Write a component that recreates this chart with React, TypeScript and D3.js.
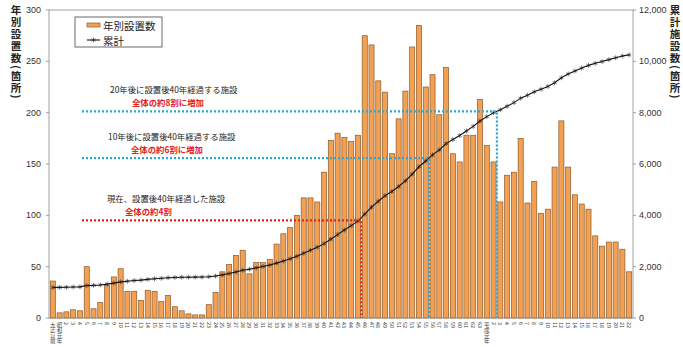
import * as d3 from 'd3';

// 年別設置数 (箇所) — 大正以前, 昭和元年〜63, 平成元年〜22
const categories = [
  '大正以前', '昭和元年', '2', '3', '4', '5', '6', '7', '8', '9', '10',
  '11', '12', '13', '14', '15', '16', '17', '18', '19', '20',
  '21', '22', '23', '24', '25', '26', '27', '28', '29', '30',
  '31', '32', '33', '34', '35', '36', '37', '38', '39', '40',
  '41', '42', '43', '44', '45', '46', '47', '48', '49', '50',
  '51', '52', '53', '54', '55', '56', '57', '58', '59', '60',
  '61', '62', '63', '平成元年', '2', '3', '4', '5', '6', '7',
  '8', '9', '10', '11', '12', '13', '14', '15', '16', '17',
  '18', '19', '20', '21', '22',
];

const yearly = [
  36, 5, 6, 8, 7, 50, 9, 15, 32, 40, 48,
  26, 26, 17, 27, 26, 16, 22, 11, 7, 4,
  3, 3, 13, 25, 45, 52, 61, 66, 43, 54,
  54, 57, 72, 82, 88, 100, 117, 117, 113, 142,
  173, 180, 176, 172, 178, 275, 266, 231, 220, 160,
  194, 221, 264, 285, 225, 237, 198, 244, 160, 152,
  178, 178, 213, 168, 152, 113, 139, 142, 175, 112,
  133, 102, 106, 147, 192, 147, 120, 111, 106, 80,
  70, 74, 74, 67, 45,
];

// 累計施設数
const cumulative = [
  1188, 1193, 1199, 1207, 1214, 1264, 1273, 1288, 1320, 1360, 1408,
  1434, 1460, 1477, 1504, 1530, 1546, 1568, 1579, 1586, 1590,
  1593, 1596, 1609, 1634, 1679, 1731, 1792, 1858, 1901, 1955,
  2009, 2066, 2138, 2220, 2308, 2408, 2525, 2642, 2755, 2897,
  3070, 3250, 3426, 3598, 3776, 4051, 4317, 4548, 4768, 4928,
  5122, 5343, 5607, 5892, 6117, 6354, 6552, 6796, 6956, 7108,
  7286, 7464, 7677, 7845, 7997, 8110, 8249, 8391, 8566, 8678,
  8811, 8913, 9019, 9166, 9358, 9505, 9625, 9736, 9842, 9922,
  9992, 10066, 10140, 10207, 10252,
];

const leftTicks = [0, 50, 100, 150, 200, 250, 300];
const rightTicks = [0, 2000, 4000, 6000, 8000, 10000, 12000];

// 40年経過の境目 (最後に含まれる年の index) と累計の水準
const milestones = [
  { label: '20年後に設置後40年経過する施設', share: '全体の約8割に増加', lastIndex: 65, level: 8050, kind: 'future', lx: 110, sx: 132 },
  { label: '10年後に設置後40年経過する施設', share: '全体の約6割に増加', lastIndex: 55, level: 6230, kind: 'future', lx: 108, sx: 131 },
  { label: '現在、設置後40年経過した施設', share: '全体の約4割', lastIndex: 45, level: 3800, kind: 'now', lx: 107, sx: 125 },
];

const W = 683;
const H = 347;
const plot = { left: 49, right: 633, top: 10, bottom: 318 };
const jp = '"Noto Sans CJK JP", "Noto Sans", sans-serif';
const num = '"Liberation Sans", Arial, sans-serif';
const barFill = '#f3a052';
const barStroke = '#8a5a2e';
const blue = '#2aa7d8';
const red = '#e5231d';

export default function App() {
  const x = d3
    .scaleBand<number>()
    .domain(d3.range(categories.length))
    .range([plot.left, plot.right])
    .paddingInner(0.25)
    .paddingOuter(0.19);
  const y = d3.scaleLinear().domain([0, 300]).range([plot.bottom, plot.top]);
  const y2 = d3.scaleLinear().domain([0, 12000]).range([plot.bottom, plot.top]);
  const cx = (i: number) => (x(i) ?? 0) + x.bandwidth() / 2;

  const line = d3
    .line<number>()
    .x((_, i) => cx(i))
    .y((d) => y2(d));
  const star = d3.symbol(d3.symbolAsterisk, 16)() ?? '';
  const fmt = d3.format(',');

  return (
    <svg width={W} height={H} style={{ position: 'absolute', left: 0, top: 0, background: '#fff' }}>
      {/* plot frame */}
      <rect
        x={plot.left}
        y={plot.top}
        width={plot.right - plot.left}
        height={plot.bottom - plot.top}
        fill="none"
        stroke="#8c8c8c"
        strokeWidth={0.8}
      />

      {/* left axis */}
      {leftTicks.map((t) => (
        <g key={'l' + t}>
          <line x1={plot.left - 3} x2={plot.left} y1={y(t)} y2={y(t)} stroke="#8c8c8c" strokeWidth={0.8} />
          <text x={41} y={y(t)} textAnchor="end" dominantBaseline="central" fontFamily={num} fontSize={9} fill="#333">
            {t}
          </text>
        </g>
      ))}
      {/* right axis */}
      {rightTicks.map((t) => (
        <g key={'r' + t}>
          <line x1={plot.right} x2={plot.right + 3} y1={y2(t)} y2={y2(t)} stroke="#8c8c8c" strokeWidth={0.8} />
          <text x={639} y={y2(t)} dominantBaseline="central" fontFamily={num} fontSize={9} fill="#333">
            {fmt(t)}
          </text>
        </g>
      ))}

      {/* axis titles */}
      <text
        x={16}
        y={5}
        style={{ writingMode: 'vertical-rl' }}
        fontFamily={jp}
        fontWeight="bold"
        fontSize={10.5}
        letterSpacing={1.5}
        fill="#222"
      >
        年別設置数(箇所)
      </text>
      <text
        x={675}
        y={5}
        style={{ writingMode: 'vertical-rl' }}
        fontFamily={jp}
        fontWeight="bold"
        fontSize={10.5}
        letterSpacing={1.5}
        fill="#222"
      >
        累計施設数(箇所)
      </text>

      {/* bars */}
      {yearly.map((v, i) => (
        <rect
          key={'b' + i}
          x={x(i)}
          y={y(v)}
          width={x.bandwidth()}
          height={plot.bottom - y(v)}
          fill={barFill}
          stroke={barStroke}
          strokeWidth={0.7}
        />
      ))}

      {/* x labels */}
      {categories.map((c, i) => (
        <text
          key={'x' + i}
          x={cx(i)}
          y={322}
          style={{ writingMode: 'vertical-rl' }}
          fontFamily={jp}
          fontSize={5.5}
          fill="#444"
        >
          {c}
        </text>
      ))}

      {/* cumulative line */}
      <path d={line(cumulative) ?? ''} fill="none" stroke="#111" strokeWidth={1.1} />
      {cumulative.map((v, i) => (
        <path key={'m' + i} d={star} transform={`translate(${cx(i)},${y2(v)})`} fill="none" stroke="#222" strokeWidth={0.6} />
      ))}

      {/* 40年経過 annotations */}
      {milestones.map((m) => {
        const color = m.kind === 'now' ? red : blue;
        const bx = (x(m.lastIndex) ?? 0) + x.bandwidth() + (x.step() * x.paddingInner()) / 2;
        const ly = y2(m.level);
        return (
          <g key={m.label}>
            <polyline
              points={`82,${ly} ${bx},${ly} ${bx},${plot.bottom}`}
              fill="none"
              stroke={color}
              strokeWidth={2.2}
              strokeDasharray="2,2"
            />
            <text x={m.lx} y={ly - 22} dominantBaseline="central" fontFamily={jp} fontSize={8.4} fill="#222">
              {m.label}
            </text>
            <text x={m.sx} y={ly - 9.5} dominantBaseline="central" fontFamily={jp} fontWeight="bold" fontSize={8.4} fill={red}>
              {m.share}
            </text>
          </g>
        );
      })}

      {/* legend */}
      <rect x={75} y={17} width={87} height={30} fill="#fff" stroke="#444" strokeWidth={0.8} />
      <rect x={87} y={23} width={13} height={4} fill={barFill} stroke={barStroke} strokeWidth={0.7} />
      <text x={103} y={25.5} dominantBaseline="central" fontFamily={jp} fontSize={10.5} fill="#222">
        年別設置数
      </text>
      <line x1={87} x2={100} y1={40} y2={40} stroke="#111" strokeWidth={1.1} />
      <path d={star} transform="translate(93.5,40)" fill="none" stroke="#222" strokeWidth={0.6} />
      <text x={103} y={40} dominantBaseline="central" fontFamily={jp} fontSize={10.5} fill="#222">
        累計
      </text>
    </svg>
  );
}
